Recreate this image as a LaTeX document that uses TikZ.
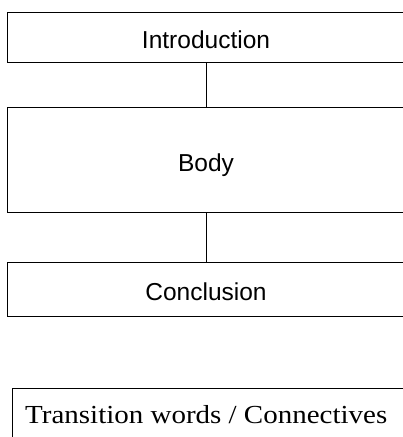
\documentclass[tikz,border=0pt]{standalone}
\usepackage{fontspec}
\setmainfont{Liberation Serif}
\newfontfamily\boxfont{Liberation Sans}
\newfontfamily\wideserif[FakeStretch=1.115]{Liberation Serif}
\begin{document}
\begin{tikzpicture}[x=1pt,y=-1pt,
  part/.style={draw, line width=0.9pt, minimum width=398pt, inner sep=0pt,
    text height=23pt, text depth=0pt,
    font=\boxfont\fontsize{24.5}{28}\selectfont},
  link/.style={line width=0.9pt}]
\useasboundingbox (0,0) rectangle (403,437);
\clip (0,0) rectangle (403,437);
\node[part, minimum height=50pt] (intro) at (206,37) {Introduction};
\node[part, minimum height=105pt] (body) at (206,159.5) {Body};
\node[part, minimum height=54pt] (concl) at (206,289) {Conclusion};
\draw[link] (intro.south) -- (body.north);
\draw[link] (body.south) -- (concl.north);
\node[draw, line width=0.9pt, anchor=north west, minimum width=420pt, minimum height=70pt,
  inner sep=0pt] (trans) at (11.5,388) {};
\node[anchor=base west, inner sep=0pt, font=\wideserif\fontsize{26}{30}\selectfont] (tw) at (25,423) {Transition words / Connectives};
\end{tikzpicture}
\end{document}
